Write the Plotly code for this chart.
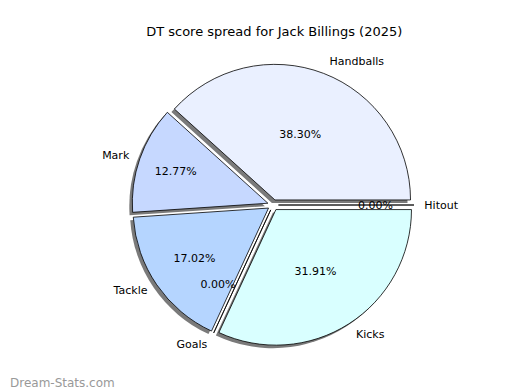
import plotly.graph_objects as go

labels = ["Handballs", "Mark", "Tackle", "Goals", "Kicks", "Hitout"]
values = [38.30, 12.77, 17.02, 0.0, 31.91, 0.0]
colors = ["#eaf0ff", "#c6d8ff", "#b5d5ff", "#ffd9d9", "#d9ffff", "#e0e0e0"]
title_text = "DT score spread for Jack Billings (2025)"
watermark = "Dream-Stats.com"

W, H = 520, 390
cx, cy, half = 265, 197, 141
pull = [0.04] * len(values)
# plotly's counterclockwise pies place the first slice clockwise of `rotation`,
# so shift so that the first slice starts at 3 o'clock going counterclockwise
rotation = 90 - 360 * values[0] / sum(values)

def dom(dx=0, dy=0, h=half):
    return dict(x=[(cx - h + dx) / W, (cx + h + dx) / W],
                y=[1 - (cy + h + dy) / H, 1 - (cy - h + dy) / H])

common = dict(labels=labels, values=values, sort=False, direction="counterclockwise",
              rotation=rotation, pull=pull, hoverinfo="skip", showlegend=False)
font = dict(family="DejaVu Sans", size=11, color="black")

fig = go.Figure()
# shadow
fig.add_trace(go.Pie(**common, domain=dom(-3, 3), textinfo="none",
                     marker=dict(colors=["#7a7a7a"] * len(values), line=dict(width=0))))
# main
fig.add_trace(go.Pie(**common, domain=dom(), texttemplate="%{percent:.2%}",
                     textposition="inside", insidetextorientation="horizontal",
                     textfont=font,
                     marker=dict(colors=colors, line=dict(color="black", width=0.8))))
# percent labels for empty slices, placed just outside an inner, invisible pie
zero_tpl = ["%{percent:.2%}" if v == 0 else "" for v in values]
fig.add_trace(go.Pie(**common, domain=dom(h=half * 0.58), texttemplate=zero_tpl,
                     textposition="outside", textfont=font,
                     marker=dict(colors=["rgba(0,0,0,0)"] * len(values), line=dict(width=0))))
# outside labels, placed around a slightly larger invisible pie
fig.add_trace(go.Pie(**common, domain=dom(h=half * 1.05), texttemplate="%{label}",
                     textposition="outside", textfont=font,
                     marker=dict(colors=["rgba(0,0,0,0)"] * len(values), line=dict(width=0))))

fig.update_layout(
    width=W, height=H, margin=dict(l=0, r=0, t=0, b=0),
    paper_bgcolor="white", plot_bgcolor="white",
    title=dict(text=title_text, x=0.512, xanchor="center", y=1 - 23 / H, yanchor="middle",
               font=dict(family="DejaVu Sans", size=13, color="black")),
    annotations=[dict(text=watermark, x=0, y=0, xref="paper", yref="paper",
                      xanchor="left", yanchor="bottom", showarrow=False, yshift=6,
                      font=dict(family="DejaVu Sans", size=12, color="#999999"))],
)
fig.write_html("out.html")
